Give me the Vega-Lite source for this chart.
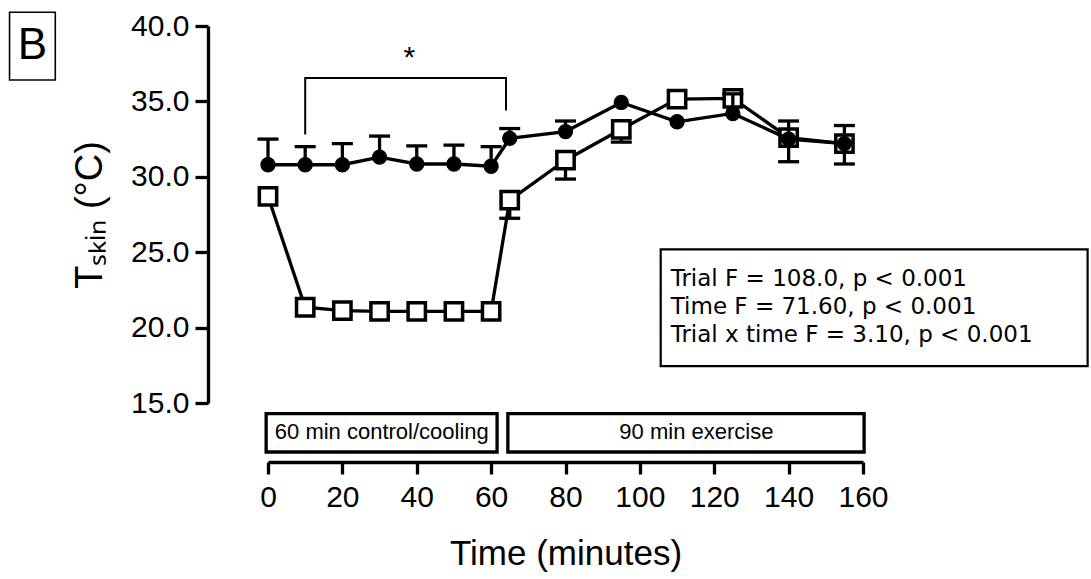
{
  "$schema": "https://vega.github.io/schema/vega-lite/v6.json",
  "width": 595,
  "height": 377,
  "autosize": {"type": "none"},
  "padding": {"left": 268, "top": 26, "right": 228, "bottom": 176},
  "background": "white",
  "config": {
    "view": {"stroke": null},
    "font": "Liberation Sans",
    "axis": {"grid": false, "domainColor": "black", "tickColor": "black", "labelColor": "black", "titleColor": "black", "domainWidth": 3.3, "tickWidth": 3.3, "labelFont": "Liberation Sans", "titleFont": "Liberation Sans", "titleFontWeight": "normal", "labelOverlap": false, "labelFlush": false, "labelBound": false}
  },
  "datasets": {
    "temps": [
      {"trial": "Control", "time": 0, "temp": 30.8, "bound": 32.5},
      {"trial": "Control", "time": 10, "temp": 30.8, "bound": 32.0},
      {"trial": "Control", "time": 20, "temp": 30.8, "bound": 32.2},
      {"trial": "Control", "time": 30, "temp": 31.3, "bound": 32.7},
      {"trial": "Control", "time": 40, "temp": 30.85, "bound": 32.05},
      {"trial": "Control", "time": 50, "temp": 30.85, "bound": 32.1},
      {"trial": "Control", "time": 60, "temp": 30.7, "bound": 32.0},
      {"trial": "Control", "time": 65, "temp": 32.55, "bound": 33.2},
      {"trial": "Control", "time": 80, "temp": 33.0, "bound": 33.7},
      {"trial": "Control", "time": 95, "temp": 34.93, "bound": null},
      {"trial": "Control", "time": 110, "temp": 33.65, "bound": null},
      {"trial": "Control", "time": 125, "temp": 34.2, "bound": 35.5},
      {"trial": "Control", "time": 140, "temp": 32.5, "bound": 33.7},
      {"trial": "Control", "time": 155, "temp": 32.2, "bound": 33.4},
      {"trial": "Cooling", "time": 0, "temp": 28.7, "bound": null},
      {"trial": "Cooling", "time": 10, "temp": 21.35, "bound": null},
      {"trial": "Cooling", "time": 20, "temp": 21.12, "bound": null},
      {"trial": "Cooling", "time": 30, "temp": 21.08, "bound": null},
      {"trial": "Cooling", "time": 40, "temp": 21.08, "bound": null},
      {"trial": "Cooling", "time": 50, "temp": 21.08, "bound": null},
      {"trial": "Cooling", "time": 60, "temp": 21.08, "bound": null},
      {"trial": "Cooling", "time": 65, "temp": 28.45, "bound": 27.25},
      {"trial": "Cooling", "time": 80, "temp": 31.1, "bound": 29.85},
      {"trial": "Cooling", "time": 95, "temp": 33.15, "bound": 32.3},
      {"trial": "Cooling", "time": 110, "temp": 35.15, "bound": null},
      {"trial": "Cooling", "time": 125, "temp": 35.2, "bound": null},
      {"trial": "Cooling", "time": 140, "temp": 32.6, "bound": 31.0},
      {"trial": "Cooling", "time": 155, "temp": 32.2, "bound": 30.85}
    ],
    "boxes": [
      {"name": "B", "x": -69.5, "x2": -57.2, "y": 40.91, "y2": 36.42, "w": 1.6},
      {"name": "phase1", "x": -0.5, "x2": 61.6, "y": 14.3, "y2": 11.75, "w": 3.3},
      {"name": "phase2", "x": 64.5, "x2": 160.3, "y": 14.3, "y2": 11.75, "w": 3.3},
      {"name": "stats", "x": 105.6, "x2": 220.4, "y": 25.19, "y2": 17.45, "w": 2.2}
    ],
    "bracket": [
      {"x": 10, "y": 32.8, "o": 1},
      {"x": 10, "y": 36.55, "o": 2},
      {"x": 64, "y": 36.55, "o": 3},
      {"x": 64, "y": 34.4, "o": 4}
    ]
  },
  "layer": [
    {
      "data": {"name": "temps"},
      "transform": [{"filter": "datum.trial === 'Cooling'"}],
      "mark": {"type": "line", "color": "black", "strokeWidth": 3.3},
      "encoding": {
        "x": {"field": "time", "type": "quantitative", "scale": {"domain": [0, 160], "nice": false, "zero": false},
          "axis": {"values": [0, 20, 40, 60, 80, 100, 120, 140, 160], "offset": 59, "tickSize": 12, "labelFontSize": 30, "labelPadding": 8, "title": "Time (minutes)", "titleFontSize": 35, "titlePadding": 24}},
        "y": {"field": "temp", "type": "quantitative", "scale": {"domain": [15, 40], "nice": false, "zero": false},
          "axis": {"values": [15, 20, 25, 30, 35, 40], "format": ".1f", "offset": 60, "tickSize": 13, "labelFontSize": 30, "labelPadding": 6, "title": "Tₛₖᵢₙ (°C)", "titleFontSize": 38, "titlePadding": 21}}
      }
    },
    {
      "data": {"name": "temps"},
      "transform": [{"filter": "datum.trial === 'Cooling' && isValid(datum.bound)"}],
      "mark": {"type": "rule", "color": "black", "strokeWidth": 3.3, "opacity": 1},
      "encoding": {
        "x": {"field": "time", "type": "quantitative"},
        "y": {"field": "temp", "type": "quantitative"},
        "y2": {"field": "bound"}
      }
    },
    {
      "data": {"name": "temps"},
      "transform": [{"filter": "datum.trial === 'Cooling' && isValid(datum.bound)"}],
      "mark": {"type": "tick", "color": "black", "orient": "horizontal", "size": 21, "thickness": 3.3, "opacity": 1},
      "encoding": {
        "x": {"field": "time", "type": "quantitative"},
        "y": {"field": "bound", "type": "quantitative"}
      }
    },
    {
      "data": {"name": "temps"},
      "transform": [{"filter": "datum.trial === 'Cooling'"}],
      "mark": {"type": "point", "shape": "square", "filled": true, "fill": "white", "stroke": "black", "strokeWidth": 3.5, "size": 300, "opacity": 1},
      "encoding": {
        "x": {"field": "time", "type": "quantitative"},
        "y": {"field": "temp", "type": "quantitative"}
      }
    },
    {
      "data": {"name": "temps"},
      "transform": [{"filter": "datum.trial === 'Control'"}],
      "mark": {"type": "line", "color": "black", "strokeWidth": 3.3},
      "encoding": {
        "x": {"field": "time", "type": "quantitative"},
        "y": {"field": "temp", "type": "quantitative"}
      }
    },
    {
      "data": {"name": "temps"},
      "transform": [{"filter": "datum.trial === 'Control' && isValid(datum.bound)"}],
      "mark": {"type": "rule", "color": "black", "strokeWidth": 3.3, "opacity": 1},
      "encoding": {
        "x": {"field": "time", "type": "quantitative"},
        "y": {"field": "temp", "type": "quantitative"},
        "y2": {"field": "bound"}
      }
    },
    {
      "data": {"name": "temps"},
      "transform": [{"filter": "datum.trial === 'Control' && isValid(datum.bound)"}],
      "mark": {"type": "tick", "color": "black", "orient": "horizontal", "size": 21, "thickness": 3.3, "opacity": 1},
      "encoding": {
        "x": {"field": "time", "type": "quantitative"},
        "y": {"field": "bound", "type": "quantitative"}
      }
    },
    {
      "data": {"name": "temps"},
      "transform": [{"filter": "datum.trial === 'Control'"}],
      "mark": {"type": "point", "shape": "circle", "filled": true, "color": "black", "size": 235, "opacity": 1},
      "encoding": {
        "x": {"field": "time", "type": "quantitative"},
        "y": {"field": "temp", "type": "quantitative"}
      }
    },
    {
      "data": {"name": "bracket"},
      "mark": {"type": "line", "color": "black", "strokeWidth": 2},
      "encoding": {
        "x": {"field": "x", "type": "quantitative"},
        "y": {"field": "y", "type": "quantitative"},
        "order": {"field": "o"}
      }
    },
    {
      "data": {"values": [{"label": "*", "x": 38, "y": 37.9}]},
      "mark": {"type": "text", "fontSize": 30, "color": "black", "baseline": "middle", "align": "center"},
      "encoding": {
        "x": {"field": "x", "type": "quantitative"},
        "y": {"field": "y", "type": "quantitative"},
        "text": {"field": "label"}
      }
    },
    {
      "data": {"name": "boxes"},
      "mark": {"type": "rect", "fill": "white", "stroke": "black"},
      "encoding": {
        "x": {"field": "x", "type": "quantitative"},
        "x2": {"field": "x2"},
        "y": {"field": "y", "type": "quantitative"},
        "y2": {"field": "y2"},
        "strokeWidth": {"field": "w", "type": "quantitative", "scale": null}
      }
    },
    {
      "data": {"values": [
        {"label": "B", "x": -63.35, "y": 38.67, "size": 44},
        {"label": "60 min control/cooling", "x": 30.6, "y": 13.05, "size": 22},
        {"label": "90 min exercise", "x": 115.2, "y": 13.05, "size": 22}
      ]},
      "mark": {"type": "text", "color": "black", "baseline": "middle", "align": "center"},
      "encoding": {
        "x": {"field": "x", "type": "quantitative"},
        "y": {"field": "y", "type": "quantitative"},
        "text": {"field": "label"},
        "size": {"field": "size", "type": "quantitative", "scale": null}
      }
    },
    {
      "data": {"values": [
        {"label": "Trial F = 108.0, p < 0.001", "x": 108.3, "y": 23.22},
        {"label": "Time F = 71.60, p < 0.001", "x": 108.3, "y": 21.37},
        {"label": "Trial x time F = 3.10, p < 0.001", "x": 108.3, "y": 19.51}
      ]},
      "mark": {"type": "text", "color": "black", "baseline": "middle", "align": "left", "fontSize": 23, "font": "DejaVu Sans"},
      "encoding": {
        "x": {"field": "x", "type": "quantitative"},
        "y": {"field": "y", "type": "quantitative"},
        "text": {"field": "label"}
      }
    }
  ]
}
